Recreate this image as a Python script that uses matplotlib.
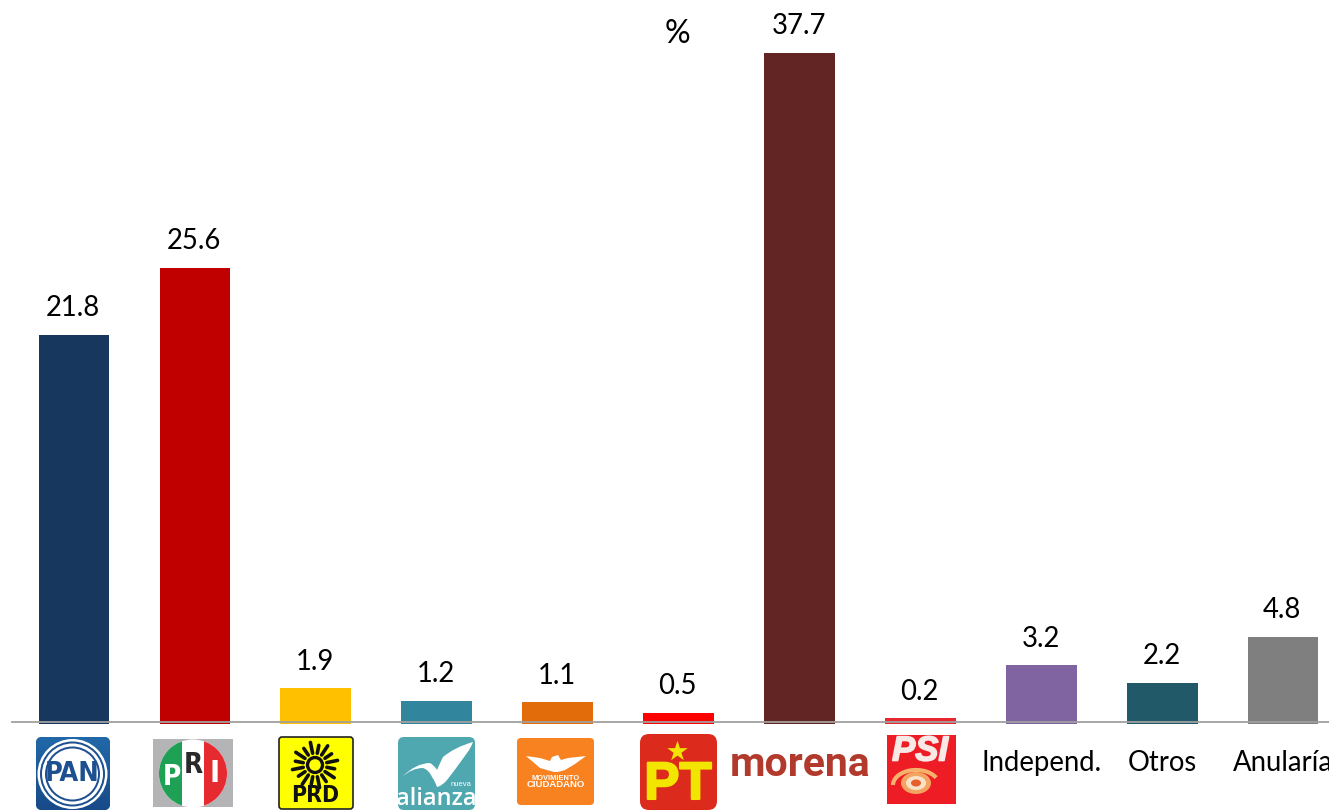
import numpy as np
import matplotlib
matplotlib.use("Agg")
import matplotlib.pyplot as plt
import matplotlib.patheffects as pe
from matplotlib.patches import FancyBboxPatch, Rectangle, Circle, Ellipse, Polygon, PathPatch, Arc
from matplotlib.path import Path

categories = ["PAN", "PRI", "PRD", "Nueva Alianza", "Movimiento Ciudadano", "PT",
              "Morena", "PSI", "Independ.", "Otros", "Anularía"]
values = [21.8, 25.6, 1.9, 1.2, 1.1, 0.5, 37.7, 0.2, 3.2, 2.2, 4.8]
bar_colors = ["#17375e", "#c00000", "#ffc000", "#31859c", "#e36c0a", "#ff0000",
              "#632523", "#e8262d", "#8064a2", "#215968", "#7f7f7f"]
text_tick_labels = ["Independ.", "Otros", "Anularía"]
overhang = 0.12

plt.rcParams["font.family"] = ["Lato", "DejaVu Sans"]
W, H = 1329, 810
fig = plt.figure(figsize=(W / 100, H / 100), dpi=100, facecolor="white")

axis_y = 722
ax = fig.add_axes([12 / W, (H - axis_y) / H, (W - 12) / W, axis_y / H])
ax.set_xlim(-0.513, 10.38)
ax.set_ylim(0, 40.68)
x = np.arange(len(categories))
bars = ax.bar(x, np.array(values) + overhang, bottom=-overhang, width=0.585,
              color=bar_colors, clip_on=False, zorder=1)
for xi, v in zip(x, values):
    ax.annotate(f"{v:.1f}", (xi, v), xytext=(-0.5, 19.2), textcoords="offset points",
                ha="center", va="center", fontsize=19.8, color="black", annotation_clip=False)
for s in ("top", "left", "right"):
    ax.spines[s].set_visible(False)
ax.spines["bottom"].set_color("#a0a0a0")
ax.spines["bottom"].set_linewidth(1.3)
ax.spines["bottom"].set_zorder(3)
ax.set_yticks([])
ax.set_xticks(x[-3:], text_tick_labels)
ax.tick_params(axis="x", length=0, pad=20, labelsize=19.8)
ax.patch.set_alpha(0)
fig.text(677 / W, 1 - 34 / H, "%", ha="center", va="center", fontsize=23, color="black")

# ---- party logos, drawn on a pixel overlay ----
lg = fig.add_axes([0, 0, 1, 1], zorder=5)
lg.set_xlim(0, W)
lg.set_ylim(H, 0)
lg.axis("off")
lg.patch.set_alpha(0)
SANS = ["Liberation Sans", "DejaVu Sans"]
COND = ["DejaVu Sans"]


def rbox(x0, y0, x1, y1, r, color, **kw):
    p = FancyBboxPatch((x0 + r, y0 + r), x1 - x0 - 2 * r, y1 - y0 - 2 * r,
                       boxstyle=f"round,pad={r},rounding_size={r}",
                       facecolor=color, edgecolor=kw.pop("edgecolor", "none"), **kw)
    lg.add_patch(p)
    return p


def curve(points, color, zorder=3):
    codes = [Path.MOVETO] + [Path.CURVE3] * (len(points) - 1)
    lg.add_patch(PathPatch(Path(points, codes), facecolor=color, edgecolor="none", zorder=zorder))


def bold(w, color):
    return [pe.withStroke(linewidth=w, foreground=color)]


# PAN
clip = rbox(36, 737, 110, 810, 6, "#1d5c98")
im = lg.imshow(np.linspace(0, 1, 64).reshape(-1, 1), extent=(36, 110, 810, 737),
               cmap=matplotlib.colors.LinearSegmentedColormap.from_list(
                   "p", ["#2168a8", "#184a88"]), aspect="auto", zorder=1)
im.set_clip_path(clip)
lg.set_xlim(0, W)
lg.set_ylim(H, 0)
lg.add_patch(Circle((72.5, 774), 35, facecolor="white", zorder=2))
lg.add_patch(Circle((72.5, 774), 32.5, facecolor="#1d5090", zorder=2))
lg.add_patch(Circle((72.5, 774), 30.5, facecolor="white", zorder=2))
lg.add_patch(Circle((72.5, 774), 27.5, facecolor="#1d5090", zorder=2))
lg.add_patch(Circle((72.5, 774), 25.5, facecolor="white", zorder=2))
lg.text(72.5, 774, "PAN", family=COND, stretch="condensed", weight="bold", fontsize=19.5,
        color="#1d5090", ha="center", va="center", zorder=4)

# PRI
lg.add_patch(Rectangle((153, 739), 80, 68, facecolor="#b4b4b6", zorder=1))
disc = Circle((193, 773.5), 34, transform=lg.transData)
lg.add_patch(Circle((193, 773.5), 34, facecolor="white", zorder=2))
for x0, x1, c in ((155, 182, "#1ea055"), (204, 231, "#e52a30")):
    band = Rectangle((x0, 739), x1 - x0, 68, facecolor=c, zorder=2)
    lg.add_patch(band)
    band.set_clip_path(disc)
lg.text(172, 777, "P", family=COND, stretch="condensed", weight="bold", fontsize=20, color="white",
        ha="center", va="center", zorder=4)
lg.text(193, 765, "R", family=COND, stretch="condensed", weight="bold", fontsize=20, color="#2a2a2a",
        ha="center", va="center", zorder=4)
lg.text(215, 774, "I", family=COND, stretch="condensed", weight="bold", fontsize=22, color="white",
        ha="center", va="center", zorder=4)

# PRD
rbox(279, 737, 353, 809, 3, "#ffff00", edgecolor="#222222", linewidth=1.2)
cx, cy = 315, 765
for a in np.arange(0, 360, 22.5):
    t = np.deg2rad(a + 11)
    r0, r1 = (12, 23) if int(a / 22.5) % 2 else (12, 20)
    lg.plot([cx + r0 * np.cos(t), cx + r1 * np.cos(t)], [cy + r0 * np.sin(t), cy + r1 * np.sin(t)],
            color="#111111", lw=2.6, solid_capstyle="round", zorder=3)
lg.add_patch(Circle((cx, cy), 7.5, facecolor="none", edgecolor="#111111", lw=2.4, zorder=3))
lg.text(315, 796, "PRD", family=COND, stretch="condensed", weight="bold", fontsize=16.5,
        color="#111111", ha="center", va="center", zorder=4)

# Nueva Alianza
rbox(398, 737, 475, 810, 6, "#4fa7b0")
curve([(402, 777), (416, 763), (430, 763), (435, 766), (437, 770), (440, 763), (443, 757),
       (455, 747), (473, 742), (471, 748), (467, 753), (455, 770), (447, 780), (442, 786),
       (437, 787), (435, 781), (432, 777), (429, 770), (423, 768), (412, 768), (402, 777)], "white")
lg.text(436.5, 799, "alianza", family=["Open Sans", "DejaVu Sans"], weight="semibold", fontsize=17,
        color="white", ha="center", va="center", zorder=4)
lg.text(461, 785, "nueva", family=SANS, fontsize=5.5, color="white", ha="center", va="center", zorder=4)

# Movimiento Ciudadano
rbox(517, 738, 594, 805, 4, "#f8821f")
lg.add_patch(Polygon([(526, 756), (540, 758), (550, 761), (552, 757), (558, 755), (561, 760), (568, 758),
                      (586, 756), (575, 764), (565, 770), (558, 772), (554, 772), (540, 768)],
                     facecolor="white", edgecolor="none", zorder=3))
lg.text(556, 778, "MOVIMIENTO", family=SANS, weight="bold", fontsize=5.4, color="white",
        ha="center", va="center", zorder=4)
lg.text(556, 784.5, "CIUDADANO", family=SANS, weight="bold", fontsize=6.8, color="white",
        ha="center", va="center", zorder=4)

# PT
rbox(640, 734, 717, 810, 9, "#dc2a1c")
lg.scatter([677], [751], marker="*", s=240, color="#f2e600", linewidths=0, zorder=3)
lg.text(678, 785, "PT", family=SANS, weight="bold", fontsize=38, color="#f2e600",
        ha="center", va="center", zorder=4, path_effects=bold(1.5, "#f2e600"))

# morena
lg.text(800.5, 765, "morena", family=["Roboto", "DejaVu Sans"], weight="bold", fontsize=29.5,
        color="#b23a2c", ha="center", va="center", zorder=4)

# PSI
lg.add_patch(Rectangle((887, 735), 69, 69, facecolor="#ee1c25", zorder=1))
lg.text(920, 751, "PSI", family=SANS, weight="bold", style="italic", fontsize=25, color="#f7e9e6",
        ha="center", va="center", zorder=4, path_effects=bold(1.2, "#f7e9e6"))
lg.add_patch(Arc((916, 785), 46, 30, theta1=180, theta2=340, color="#f6b26b", lw=3, zorder=3))
lg.add_patch(Ellipse((916, 783), 30, 22, facecolor="#f4a460", zorder=2))
lg.add_patch(Ellipse((916, 783), 20, 14, facecolor="#f9e3c8", zorder=3))
lg.add_patch(Ellipse((916, 783), 10, 7, facecolor="#e8602c", zorder=3))

fig.savefig("out.png", dpi=100, facecolor="white")
